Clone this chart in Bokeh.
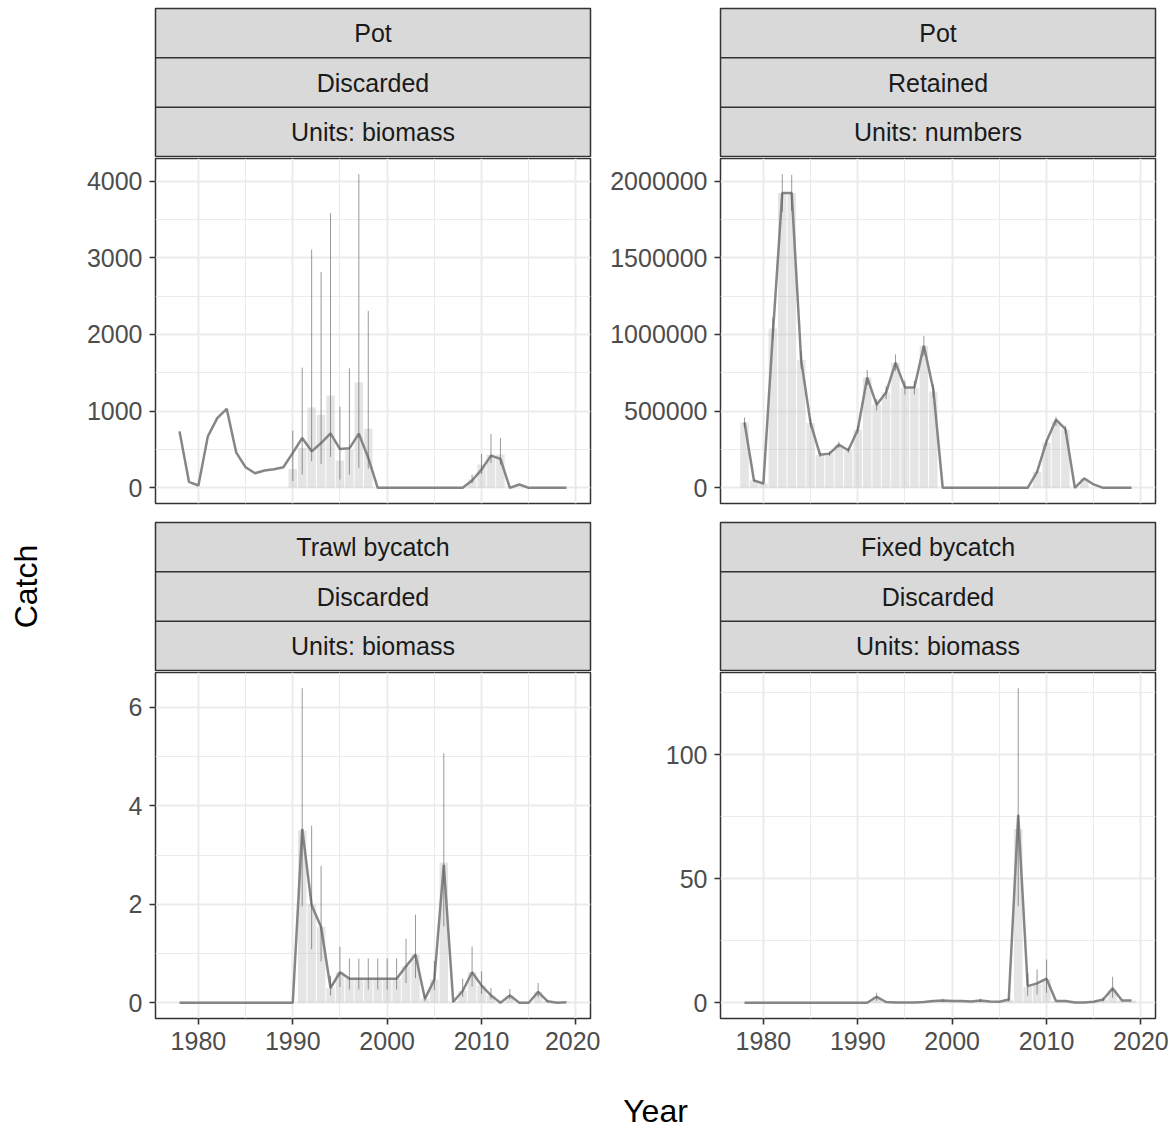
import math
from bokeh.plotting import figure
from bokeh.models import Range1d, FixedTicker, BasicTickFormatter, Grid, Label
from bokeh.layouts import row, column
from bokeh.embed import file_html
from bokeh.resources import INLINE

years = list(range(1978, 2020))
x_major = [1980, 1990, 2000, 2010, 2020]
x_minor = [1985, 1995, 2005, 2015]

# ---- Pot / Discarded / biomass ----
p1_line = [736, 78, 30, 671, 909, 1030, 463, 268, 190, 225, 242, 268, 455, 650, 476, 584, 710, 506,
           515, 706, 390, 0, 0, 0, 0, 0, 0, 0, 0, 0, 0, 95, 238, 420, 377, 0, 43, 0, 0, 0, 0, 0]
p1_obs_years = [1990, 1991, 1992, 1993, 1994, 1995, 1996, 1997, 1998, 2009, 2010, 2011, 2012]
p1_obs = [247, 519, 1048, 952, 1203, 355, 498, 1377, 770, 110, 303, 433, 433]
p1_lo = [87, 173, 346, 312, 403, 108, 173, 260, 250, 60, 180, 325, 300]
p1_hi = [745, 1567, 3108, 2814, 3584, 1060, 1558, 4091, 2307, 170, 441, 701, 650]
p1_yticks = [0, 1000, 2000, 3000, 4000]
p1_yminor = [500, 1500, 2500, 3500]

# ---- Pot / Retained / numbers ----
p2_line = [426000, 47600, 28100, 1000000, 1922000, 1922000, 833000, 422000, 216000, 223000, 281000,
           245000, 379000, 719000, 541000, 621000, 816000, 654000, 654000, 926000, 643000, 0, 0, 0, 0,
           0, 0, 0, 0, 0, 0, 104000, 303000, 444000, 383000, 0, 61000, 22000, 0, 0, 0, 0]
p2_obs_years = list(range(1978, 1999)) + [2009, 2010, 2011, 2012, 2014]
p2_obs = [426000, 47000, 28000, 1039000, 1922000, 1922000, 833000, 422000, 216000, 223000, 281000,
          245000, 379000, 719000, 541000, 621000, 816000, 654000, 654000, 926000, 628000,
          104000, 296000, 433000, 379000, 61000]
p2_lo = [393000, 42000, 25000, 968000, 1800000, 1805000, 776000, 394000, 201000, 208000, 262000,
         228000, 353000, 670000, 504000, 579000, 762000, 609000, 609000, 861000, 585000,
         97000, 276000, 403000, 353000, 57000]
p2_hi = [459000, 52000, 31000, 1110000, 2045000, 2040000, 890000, 450000, 231000, 238000, 300000,
         262000, 405000, 768000, 578000, 663000, 870000, 699000, 699000, 991000, 671000,
         111000, 316000, 463000, 405000, 65000]
p2_yticks = [0, 500000, 1000000, 1500000, 2000000]
p2_yminor = [250000, 750000, 1250000, 1750000]

# ---- Trawl bycatch / Discarded / biomass ----
p3_line = [0, 0, 0, 0, 0, 0, 0, 0, 0, 0, 0, 0, 0, 3.53, 1.98, 1.54, 0.30, 0.62, 0.49, 0.49, 0.49,
           0.49, 0.49, 0.49, 0.74, 0.98, 0.08, 0.47, 2.80, 0.02, 0.24, 0.62, 0.35, 0.15, 0.0, 0.15,
           0.0, 0.0, 0.22, 0.03, 0.0, 0.01]
p3_obs_years = list(range(1991, 2020))
p3_obs = [3.5, 2.0, 1.54, 0.30, 0.62, 0.49, 0.49, 0.49, 0.49, 0.49, 0.49, 0.74, 0.98, 0.08, 0.47,
          2.85, 0.02, 0.24, 0.62, 0.35, 0.15, 0.0, 0.15, 0.0, 0.0, 0.22, 0.03, 0.0, 0.01]
p3_err_years = [1991, 1992, 1993, 1994, 1995, 1996, 1997, 1998, 1999, 2000, 2001, 2002, 2003, 2004,
                2005, 2006, 2007, 2008, 2009, 2010, 2011, 2013, 2016, 2017]
p3_lo = [1.96, 1.09, 0.84, 0.15, 0.32, 0.27, 0.27, 0.27, 0.27, 0.27, 0.27, 0.40, 0.50, 0.03, 0.26,
         1.55, 0.0, 0.12, 0.33, 0.18, 0.07, 0.07, 0.11, 0.01]
p3_hi = [6.39, 3.60, 2.78, 0.55, 1.14, 0.90, 0.90, 0.90, 0.90, 0.90, 0.90, 1.30, 1.79, 0.15, 0.85,
         5.07, 0.05, 0.49, 1.14, 0.64, 0.30, 0.28, 0.40, 0.06]
p3_yticks = [0, 2, 4, 6]
p3_yminor = [1, 3, 5]

# ---- Fixed bycatch / Discarded / biomass ----
p4_line = [0, 0, 0, 0, 0, 0, 0, 0, 0, 0, 0, 0, 0, 0, 2.4, 0.3, 0.1, 0.1, 0.1, 0.3, 0.7, 0.9, 0.7,
           0.7, 0.5, 0.9, 0.5, 0.4, 1.3, 75.7, 6.7, 7.8, 9.7, 0.7, 0.7, 0.1, 0.1, 0.4, 1.3, 5.8, 0.9, 0.9]
p4_obs_years = list(range(1992, 2020))
p4_obs = [2.4, 0.3, 0.1, 0.1, 0.1, 0.3, 0.7, 0.9, 0.7, 0.7, 0.5, 0.9, 0.5, 0.4, 1.3, 70.0, 6.4,
          7.5, 9.5, 0.7, 0.7, 0.1, 0.1, 0.4, 1.3, 5.0, 0.9, 0.9]
p4_err_years = [1992, 1999, 2003, 2006, 2007, 2008, 2009, 2010, 2016, 2017]
p4_lo = [0.8, 0.4, 0.4, 0.5, 38.9, 2.8, 3.4, 4.0, 0.5, 2.0]
p4_hi = [4.0, 1.6, 1.6, 2.3, 126.7, 12.0, 13.4, 17.4, 2.2, 10.5]
p4_yticks = [0, 50, 100]
p4_yminor = [25, 75, 125]

strip_labels_1 = ["Pot", "Discarded", "Units: biomass"]
strip_labels_2 = ["Pot", "Retained", "Units: numbers"]
strip_labels_3 = ["Trawl bycatch", "Discarded", "Units: biomass"]
strip_labels_4 = ["Fixed bycatch", "Discarded", "Units: biomass"]

FONT = "Liberation Sans"
FRAME_W = 435
BORDER = "#333333"


def clear_grids(p):
    p.center = [r for r in p.center if not isinstance(r, Grid)]


def strip_fig(labels, left, right, top, bottom, frame_h):
    p = figure(width=left + FRAME_W + right, height=top + frame_h + bottom,
               x_range=Range1d(0, 1), y_range=Range1d(0, 3),
               x_axis_location=None, y_axis_location=None,
               toolbar_location=None, output_backend="svg",
               min_border_left=left, min_border_right=right,
               min_border_top=top, min_border_bottom=bottom)
    clear_grids(p)
    p.background_fill_color = "#d9d9d9"
    p.border_fill_color = "white"
    p.outline_line_color = BORDER
    p.outline_line_width = 1.5
    p.segment(x0=[0, 0], y0=[1, 2], x1=[1, 1], y1=[1, 2], line_color=BORDER, line_width=1.5)
    for i, lab in enumerate(labels):
        p.add_layout(Label(x=0.5, y=2.5 - i, text=lab, text_align="center",
                           text_baseline="middle", text_font=FONT,
                           text_font_size="25px", text_color="#1a1a1a"))
    return p


def panel_fig(line_vals, obs_years, obs, err_years, lo, hi, yticks, yminor,
              left, right, top, bottom, frame_h, show_x):
    ymax = max(max(hi), max(line_vals), max(obs))
    xmin = min(years) - 0.45
    xmax = max(years) + 0.45
    span = xmax - xmin
    p = figure(width=left + FRAME_W + right, height=top + frame_h + bottom,
               x_range=Range1d(xmin - 0.05 * span, xmax + 0.05 * span),
               y_range=Range1d(-0.05 * ymax, 1.05 * ymax),
               x_axis_location="below" if show_x else None,
               toolbar_location=None, output_backend="svg",
               min_border_left=left, min_border_right=right,
               min_border_top=top, min_border_bottom=bottom)
    clear_grids(p)
    p.background_fill_color = "white"
    p.border_fill_color = "white"
    p.outline_line_color = BORDER
    p.outline_line_width = 1.5

    xt = FixedTicker(ticks=x_major, minor_ticks=x_minor)
    yt = FixedTicker(ticks=yticks, minor_ticks=yminor)
    for dim, t in ((0, xt), (1, yt)):
        g = Grid(dimension=dim, ticker=t, grid_line_color="#ebebeb", grid_line_width=2.0,
                 minor_grid_line_color="#ebebeb", minor_grid_line_width=1.1)
        p.add_layout(g, "center")

    axes = list(p.yaxis) + (list(p.xaxis) if show_x else [])
    for ax in axes:
        ax.axis_line_color = None
        ax.major_tick_line_color = BORDER
        ax.major_tick_line_width = 1.6
        ax.major_tick_out = 6
        ax.major_tick_in = 0
        ax.minor_tick_line_color = None
        ax.major_label_text_font = FONT
        ax.major_label_text_font_size = "25px"
        ax.major_label_text_color = "#4d4d4d"
    p.yaxis.ticker = FixedTicker(ticks=yticks)
    p.yaxis.formatter = BasicTickFormatter(use_scientific=False)
    p.yaxis.major_label_standoff = 7
    if show_x:
        p.xaxis.ticker = FixedTicker(ticks=x_major)
        p.xaxis.major_label_standoff = 7

    p.vbar(x=obs_years, top=obs, bottom=0, width=0.9, fill_color="#bebebe",
           fill_alpha=0.4, line_color=None)
    p.line(x=years, y=line_vals, line_color="#7f7f7f", line_width=2.5, line_alpha=0.95)
    p.segment(x0=err_years, y0=lo, x1=err_years, y1=hi, line_color="#555555",
              line_alpha=0.6, line_width=1)
    return p


LL, LR = 105, 10     # left column borders
RL, RR = 120, 20     # right column borders

s1 = strip_fig(strip_labels_1, LL, LR, 8, 1, 148)
s2 = strip_fig(strip_labels_2, RL, RR, 8, 1, 148)
a1 = panel_fig(p1_line, p1_obs_years, p1_obs, p1_obs_years, p1_lo, p1_hi, p1_yticks, p1_yminor,
               LL, LR, 1, 18, 345, False)
a2 = panel_fig(p2_line, p2_obs_years, p2_obs, p2_obs_years, p2_lo, p2_hi, p2_yticks, p2_yminor,
               RL, RR, 1, 18, 345, False)
s3 = strip_fig(strip_labels_3, LL, LR, 1, 1, 148)
s4 = strip_fig(strip_labels_4, RL, RR, 1, 1, 148)
a3 = panel_fig(p3_line, p3_obs_years, p3_obs, p3_err_years, p3_lo, p3_hi, p3_yticks, p3_yminor,
               LL, LR, 1, 54, 346, True)
a4 = panel_fig(p4_line, p4_obs_years, p4_obs, p4_err_years, p4_lo, p4_hi, p4_yticks, p4_yminor,
               RL, RR, 1, 54, 346, True)

total_w = (LL + FRAME_W + LR) + (RL + FRAME_W + RR)

yearf = figure(width=total_w, height=56, x_range=Range1d(0, total_w), y_range=Range1d(0, 56),
               x_axis_location=None, y_axis_location=None, toolbar_location=None,
               output_backend="svg", min_border=0)
clear_grids(yearf)
yearf.outline_line_color = None
yearf.add_layout(Label(x=605, y=18, text="Year", text_align="center", text_baseline="middle",
                       text_font=FONT, text_font_size="32px", text_color="black"))

catchf = figure(width=50, height=1128, x_range=Range1d(0, 50), y_range=Range1d(0, 1128),
                x_axis_location=None, y_axis_location=None, toolbar_location=None,
                output_backend="svg", min_border=0)
clear_grids(catchf)
catchf.outline_line_color = None
catchf.add_layout(Label(x=25, y=542, text="Catch", text_align="center", text_baseline="middle",
                        angle=math.pi / 2, text_font=FONT, text_font_size="32px",
                        text_color="black"))

layout = row(catchf, column(row(s1, s2), row(a1, a2), row(s3, s4), row(a3, a4), yearf))

open("out.html", "w").write(file_html(layout, INLINE))
